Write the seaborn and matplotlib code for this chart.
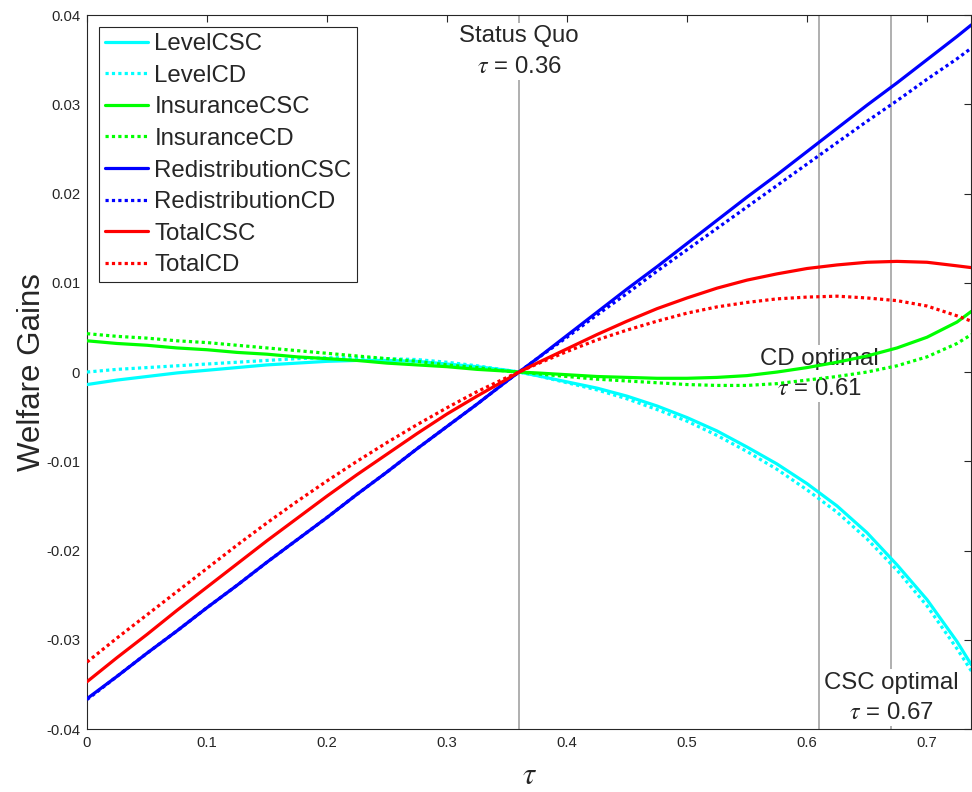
import numpy as np
import pandas as pd
import seaborn as sns
import matplotlib.pyplot as plt

# tau grid and welfare gains
tau = [0, 0.025, 0.05, 0.075, 0.1, 0.125, 0.15, 0.175, 0.2, 0.225, 0.25, 0.275, 0.3, 0.325, 0.35, 0.36,
       0.375, 0.4, 0.425, 0.45, 0.475, 0.5, 0.525, 0.55, 0.575, 0.6, 0.625, 0.65, 0.675, 0.7, 0.725, 0.737]
level_csc = [-0.0014, -0.0009, -0.0005, -0.0001, 0.0002, 0.0005, 0.0008, 0.0010, 0.0012, 0.0013, 0.0013, 0.0012, 0.0009, 0.0006, 0.0002, 0.0,
             -0.0004, -0.0011, -0.0018, -0.0027, -0.0038, -0.0051, -0.0066, -0.0084, -0.0103, -0.0125, -0.0150, -0.0180, -0.0216, -0.0255, -0.0302, -0.0328]
level_cd = [0.0000, 0.0003, 0.0005, 0.0007, 0.0009, 0.0011, 0.0013, 0.0015, 0.0016, 0.0016, 0.0015, 0.0014, 0.0011, 0.0007, 0.0002, 0.0,
            -0.0004, -0.0012, -0.0020, -0.0030, -0.0042, -0.0055, -0.0071, -0.0089, -0.0109, -0.0132, -0.0157, -0.0187, -0.0222, -0.0262, -0.0310, -0.0335]
ins_csc = [0.0035, 0.0032, 0.0030, 0.0027, 0.0025, 0.0022, 0.0020, 0.0017, 0.0015, 0.0013, 0.0010, 0.0008, 0.0006, 0.0003, 0.0001, 0.0,
           -0.0001, -0.0003, -0.0005, -0.0006, -0.0007, -0.0007, -0.0006, -0.0004, 0.0000, 0.0005, 0.0011, 0.0018, 0.0027, 0.0039, 0.0056, 0.0068]
ins_cd = [0.0043, 0.0040, 0.0038, 0.0035, 0.0033, 0.0030, 0.0027, 0.0024, 0.0021, 0.0018, 0.0015, 0.0012, 0.0008, 0.0005, 0.0001, 0.0,
          -0.0002, -0.0005, -0.0008, -0.0010, -0.0012, -0.0014, -0.0015, -0.0015, -0.0013, -0.0009, -0.0005, 0.0000, 0.0007, 0.0017, 0.0032, 0.0042]
red_csc = [-0.0366, -0.0341, -0.0315, -0.0290, -0.0264, -0.0239, -0.0213, -0.0188, -0.0163, -0.0137, -0.0112, -0.0086, -0.0061, -0.0036, -0.0010, 0.0,
           0.0015, 0.0041, 0.0067, 0.0093, 0.0118, 0.0144, 0.0170, 0.0196, 0.0221, 0.0247, 0.0273, 0.0299, 0.0324, 0.0350, 0.0376, 0.0389]
red_cd = [-0.0367, -0.0341, -0.0315, -0.0290, -0.0264, -0.0239, -0.0213, -0.0188, -0.0163, -0.0137, -0.0112, -0.0086, -0.0061, -0.0036, -0.0010, 0.0,
          0.0015, 0.0039, 0.0064, 0.0088, 0.0113, 0.0137, 0.0161, 0.0185, 0.0209, 0.0233, 0.0257, 0.0281, 0.0304, 0.0328, 0.0351, 0.0363]
tot_csc = [-0.0347, -0.0320, -0.0294, -0.0267, -0.0241, -0.0215, -0.0189, -0.0164, -0.0139, -0.0115, -0.0092, -0.0069, -0.0047, -0.0027, -0.0008, 0.0,
           0.0010, 0.0026, 0.0042, 0.0057, 0.0071, 0.0083, 0.0094, 0.0103, 0.0110, 0.0116, 0.0120, 0.0123, 0.0124, 0.0123, 0.0119, 0.0117]
tot_cd = [-0.0325, -0.0298, -0.0272, -0.0246, -0.0220, -0.0194, -0.0169, -0.0145, -0.0122, -0.0100, -0.0079, -0.0059, -0.0040, -0.0022, -0.0006, 0.0,
          0.0009, 0.0023, 0.0036, 0.0047, 0.0057, 0.0066, 0.0073, 0.0078, 0.0082, 0.0084, 0.0085, 0.0083, 0.0080, 0.0074, 0.0063, 0.0057]

names = ["LevelCSC", "LevelCD", "InsuranceCSC", "InsuranceCD",
         "RedistributionCSC", "RedistributionCD", "TotalCSC", "TotalCD"]
series = [level_csc, level_cd, ins_csc, ins_cd, red_csc, red_cd, tot_csc, tot_cd]
colors = ["#00ffff", "#00ffff", "#00ff00", "#00ff00", "#0000ff", "#0000ff", "#ff0000", "#ff0000"]

marks = [0.36, 0.61, 0.67]
mark_labels = ["Status Quo\n$\\tau$ = 0.36", "CD optimal\n$\\tau$ = 0.61", "CSC optimal\n$\\tau$ = 0.67"]
mark_y = [0.0359, -0.0002, -0.0365]

yticks = [-0.04, -0.03, -0.02, -0.01, 0, 0.01, 0.02, 0.03, 0.04]
ytick_labels = ["-0.04", "-0.03", "-0.02", "-0.01", "0", "0.01", "0.02", "0.03", "0.04"]
xticks = [0, 0.1, 0.2, 0.3, 0.4, 0.5, 0.6, 0.7]
xtick_labels = ["0", "0.1", "0.2", "0.3", "0.4", "0.5", "0.6", "0.7"]

sns.set_style("white")
plt.rcParams['font.family'] = ['Liberation Sans', 'DejaVu Sans']
plt.rcParams['mathtext.fontset'] = 'stix'

dark = "#262626"
fig = plt.figure(figsize=(9.72, 7.92), dpi=100)
ax = fig.add_axes([0.0895, 0.0795, 0.9095, 0.9015])

ax.vlines(marks, -0.04, 0.04, colors="#9a9a9a", linewidth=1.1, zorder=1)
for xm, lab, ym in zip(marks, mark_labels, mark_y):
    ax.text(xm, ym, lab, ha="center", va="center", fontsize=17.3, color=dark,
            linespacing=1.5, zorder=1.5,
            bbox=dict(facecolor="white", edgecolor="none", pad=1.5))

for name, vals, col in zip(names, series, colors):
    ls = "-" if name.endswith("CSC") else (0, (1, 1))
    sns.lineplot(x=tau, y=vals, ax=ax, color=col, linestyle=ls, linewidth=2.3,
                 label=name, zorder=3)

ax.set_xlim(0, 0.7367)
ax.set_ylim(-0.04, 0.04)
ax.set_xticks(xticks)
ax.set_xticklabels(xtick_labels)
ax.set_yticks(yticks)
ax.set_yticklabels(ytick_labels)
ax.tick_params(direction="in", length=5, width=0.8, colors=dark, labelsize=10.7,
               top=True, right=True, pad=5)
for sp in ax.spines.values():
    sp.set_color(dark)
    sp.set_linewidth(0.8)

ax.set_ylabel("Welfare Gains", fontsize=22.5, color=dark, labelpad=-1)
ax.set_xlabel("$\\tau$", fontsize=22, color=dark, labelpad=8)

leg = ax.legend(loc="upper left", fontsize=17.3, frameon=True, fancybox=False,
                framealpha=1, edgecolor=dark, handlelength=1.8,
                handletextpad=0.25, labelspacing=0.4, borderpad=0.25,
                borderaxespad=0.5)
leg.get_frame().set_linewidth(0.8)

fig.savefig("out.png", dpi=100)
